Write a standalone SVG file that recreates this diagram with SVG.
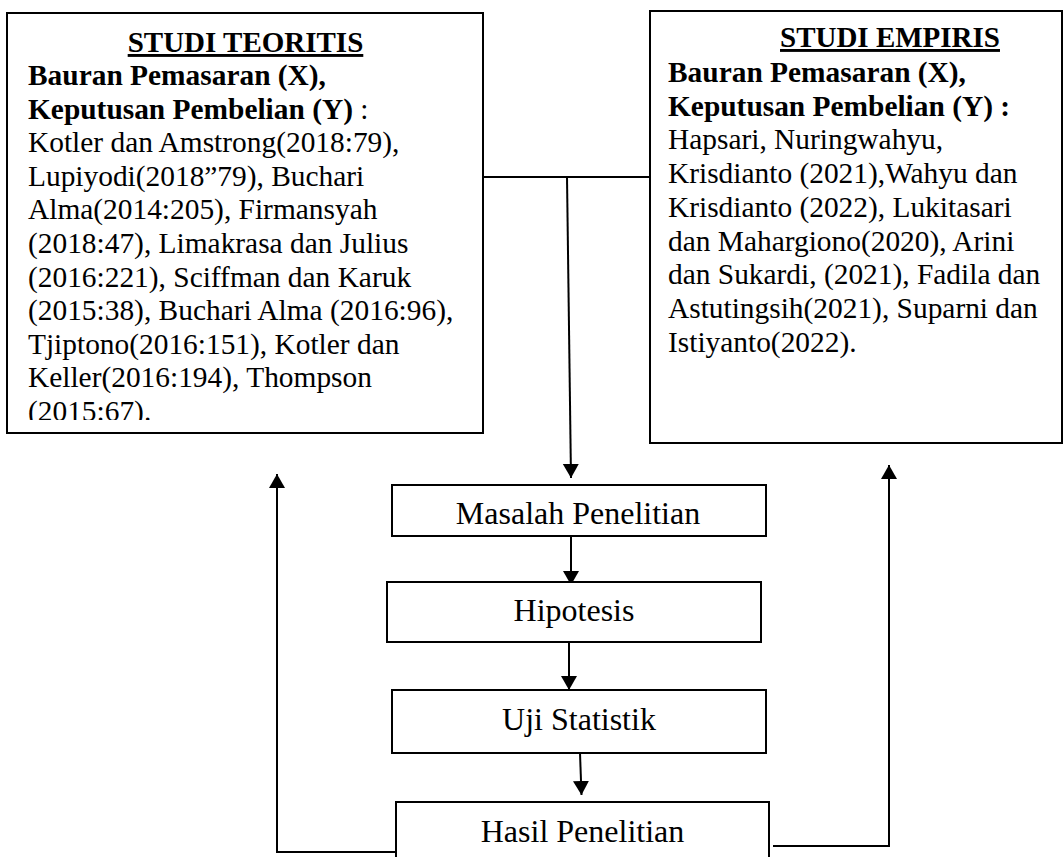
<svg xmlns="http://www.w3.org/2000/svg" width="1064" height="857" viewBox="0 0 1064 857">
<style>
  .box { fill: #fff; stroke: #000; stroke-width: 2; }
  .ln { fill: none; stroke: #000; stroke-width: 2; }
  .arr { marker-end: url(#ah); }
  text { font-family: "Liberation Serif", "Times New Roman", serif; fill: #000; }
  .title { font-size: 29px; font-weight: bold; text-decoration: underline; text-anchor: middle; }
  .body { font-size: 29.4px; }
  .b { font-weight: bold; }
  .lbl { font-size: 32px; text-anchor: middle; }
</style>
<defs>
  <marker id="ah" markerUnits="userSpaceOnUse" markerWidth="16" markerHeight="18" refX="14" refY="8" orient="auto">
    <path d="M0,0 L14,8 L0,16 z" fill="#000"/>
  </marker>
  <clipPath id="clipL"><rect x="8" y="14" width="474" height="406"/></clipPath>
</defs>
<g id="connectors">
  <path class="ln" d="M483,177 L650,177"/>
  <path class="ln arr" d="M567,177 L571,478"/>
  <path class="ln arr" d="M571,536 L571,585"/>
  <path class="ln arr" d="M569,642 L569,690"/>
  <path class="ln arr" d="M580,753 L581.5,795"/>
  <path class="ln arr" d="M396,852 L277,852 L277,474"/>
  <path class="ln arr" d="M773,846 L889,846 L889,465"/>
</g>
<g id="studi-teoritis">
  <rect class="box" x="7" y="13" width="476" height="420"/>
  <text class="title" x="245.5" y="52">STUDI TEORITIS</text>
  <g clip-path="url(#clipL)">
    <text class="body" x="28" y="85"><tspan class="b">Bauran Pemasaran (X),</tspan></text>
    <text class="body" x="28" y="118.6"><tspan class="b">Keputusan Pembelian (Y)</tspan> :</text>
    <text class="body" x="28" y="152.2">Kotler dan Amstrong(2018:79),</text>
    <text class="body" x="28" y="185.8">Lupiyodi(2018”79), Buchari</text>
    <text class="body" x="28" y="219.4">Alma(2014:205), Firmansyah</text>
    <text class="body" x="28" y="253">(2018:47), Limakrasa dan Julius</text>
    <text class="body" x="28" y="286.6">(2016:221), Sciffman dan Karuk</text>
    <text class="body" x="28" y="320.2">(2015:38), Buchari Alma (2016:96),</text>
    <text class="body" x="28" y="353.8">Tjiptono(2016:151), Kotler dan</text>
    <text class="body" x="28" y="387.4">Keller(2016:194), Thompson</text>
    <text class="body" x="28" y="421">(2015:67).</text>
  </g>
</g>
<g id="studi-empiris">
  <rect class="box" x="650" y="11" width="412" height="432"/>
  <text class="title" x="890" y="47">STUDI EMPIRIS</text>
  <text class="body b" x="668" y="82">Bauran Pemasaran (X),</text>
  <text class="body b" x="668" y="115.7">Keputusan Pembelian (Y) :</text>
  <text class="body" x="668" y="149.4">Hapsari, Nuringwahyu,</text>
  <text class="body" x="668" y="183.1">Krisdianto (2021),Wahyu dan</text>
  <text class="body" x="668" y="216.8">Krisdianto (2022), Lukitasari</text>
  <text class="body" x="668" y="250.5">dan Mahargiono(2020), Arini</text>
  <text class="body" x="668" y="284.2">dan Sukardi, (2021), Fadila dan</text>
  <text class="body" x="668" y="317.9">Astutingsih(2021), Suparni dan</text>
  <text class="body" x="668" y="351.6">Istiyanto(2022).</text>
</g>
<g id="masalah">
  <rect class="box" x="392" y="485" width="374" height="51"/>
  <text class="lbl" x="578" y="524">Masalah Penelitian</text>
</g>
<g id="hipotesis">
  <rect class="box" x="387" y="582" width="374" height="60"/>
  <text class="lbl" x="574" y="621">Hipotesis</text>
</g>
<g id="uji">
  <rect class="box" x="392" y="690" width="374" height="63"/>
  <text class="lbl" x="579" y="730">Uji Statistik</text>
</g>
<g id="hasil">
  <rect class="box" x="396" y="802" width="373" height="80"/>
  <text class="lbl" x="582.5" y="842">Hasil Penelitian</text>
</g>
</svg>
